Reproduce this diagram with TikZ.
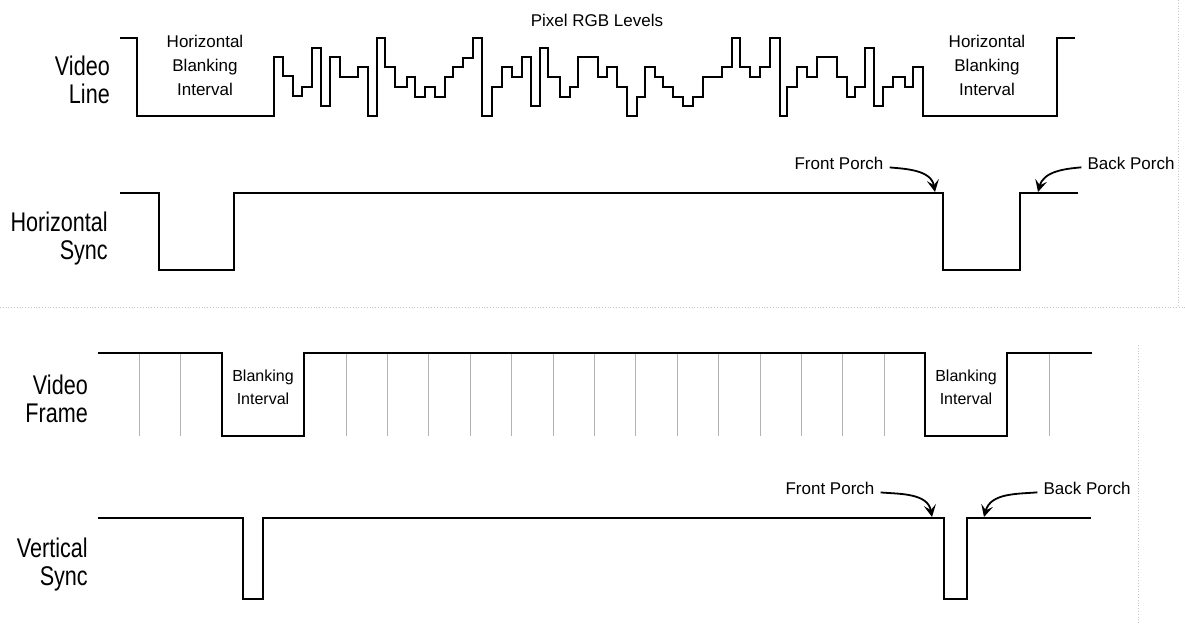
\documentclass[tikz,border=0pt]{standalone}
\usepackage{fontspec}
\setmainfont{Liberation Sans}
\newfontfamily\narrowsf{Liberation Sans}[FakeStretch=0.8]
\usetikzlibrary{arrows.meta}

\begin{document}
\begin{tikzpicture}[x=1pt, y=-1pt,
    wave/.style={line width=2.2pt},
    siglabel/.style={font=\narrowsf\fontsize{27}{28}\selectfont, align=right, inner sep=0pt, anchor=east},
    note/.style={font=\fontsize{17}{24}\selectfont, align=center, inner sep=0pt},
    smallnote/.style={font=\fontsize{16}{23}\selectfont, align=center, inner sep=0pt},
    porch/.style={-{Stealth[length=12pt, width=12pt, inset=5pt]}, line width=1.8pt, shorten <=6pt},
    tick/.style={gray!60, line width=0.8pt},
    border/.style={gray!45, dotted, line width=0.8pt}]
        \useasboundingbox (0,0) rectangle (1185,624);

        % Panel borders
        \draw[border] (0,307) -- (1185,307);
        \draw[border] (1178,0) -- (1178,307);
        \draw[border] (1138,345) -- (1138,624);

        % Signal names
        \node[siglabel] (vline) at (110,80) {Video\\Line};
        \node[siglabel] (hsync) at (108,239) {Horizontal\\Sync};
        \node[siglabel] (vframe) at (88,399) {Video\\Frame};
        \node[siglabel] (vsync) at (88,565) {Vertical\\Sync};

        % Video line
        \draw[wave] (120,38) -| (137,116) -| (274,57) -| (283,76) -| (293,96) -| (302,87)
            -| (312,48) -| (321,106) -| (330,57) -| (340,77) -| (358,67) -| (368,116)
            -| (377,38) -| (385,67) -| (395,87) -| (407,77) -| (415,97) -| (425,87)
            -| (435,97) -| (445,77) -| (453,67) -| (463,58) -| (473,38) -| (482,116)
            -| (492,87) -| (502,67) -| (512,77) -| (522,57) -| (531,106) -| (540,48)
            -| (548,77) -| (560,97) -| (570,87) -| (578,57) -| (598,77) -| (607,67)
            -| (617,87) -| (627,116) -| (637,97) -| (645,67) -| (655,77) -| (663,87)
            -| (673,97) -| (683,106) -| (693,97) -| (703,77) -| (722,67) -| (732,38)
            -| (740,67) -| (750,77) -| (760,67) -| (770,38) -| (780,116) -| (787,87)
            -| (797,67) -| (807,77) -| (817,57) -| (837,77) -| (847,97) -| (855,87)
            -| (865,48) -| (874,106) -| (883,87) -| (893,77) -| (905,87) -| (913,67)
            -| (923,116) -| (1057,38) -- (1075,38);
        \node[note] (pixels) at (597,20) {Pixel RGB Levels};
        \node[note] (hbiL) at (205,65) {Horizontal\\Blanking\\Interval};
        \node[note] (hbiR) at (987,65) {Horizontal\\Blanking\\Interval};

        % Horizontal sync
        \draw[wave] (120,193) -| (159,270) -| (234,193) -| (943,270) -| (1020,193) -- (1078,193);
        \node[note] (fpH) at (839,163) {Front Porch};
        \node[note] (bpH) at (1131,163) {Back Porch};
        \coordinate (fpHtip) at (935,192);
        \coordinate (bpHtip) at (1038,192);
        \draw[porch] (fpH) to[out=-5, in=100] (fpHtip);
        \draw[porch] (bpH) to[out=185, in=75] (bpHtip);

        % Video frame
        \foreach \k in {0,1,5,6,...,18,22}
            \draw[tick] ({139+41.4*\k},353) -- ({139+41.4*\k},436);
        \draw[wave] (98,353) -| (222,436) -| (304,353) -| (925,436) -| (1007,353) -- (1092,353);
        \node[smallnote] (biL) at (263,387) {Blanking\\Interval};
        \node[smallnote] (biR) at (966,387) {Blanking\\Interval};

        % Vertical sync
        \draw[wave] (98,518) -| (243,599) -| (263,518) -| (944,599) -| (967,518) -- (1091,518);
        \node[note] (fpV) at (830,488) {Front Porch};
        \node[note] (bpV) at (1087,488) {Back Porch};
        \coordinate (fpVtip) at (932,517);
        \coordinate (bpVtip) at (984,517);
        \draw[porch] (fpV) to[out=-5, in=100] (fpVtip);
        \draw[porch] (bpV) to[out=185, in=75] (bpVtip);
    \end{tikzpicture}
\end{document}
